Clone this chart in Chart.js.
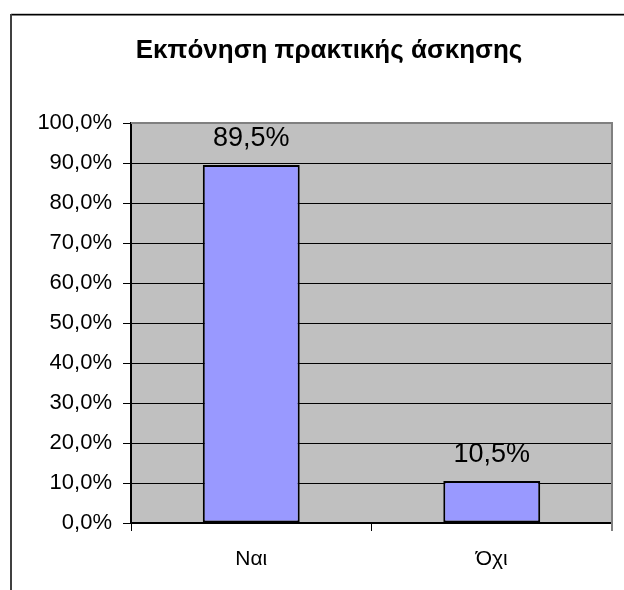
<!DOCTYPE html>
<html>
<head>
<meta charset="utf-8">
<script src="https://cdn.jsdelivr.net/npm/chart.js@4/dist/chart.umd.min.js"></script>
<style>
html,body{margin:0;padding:0;background:#fff;}
#wrap{position:relative;width:624px;height:590px;}
</style>
</head>
<body>
<div id="wrap"><canvas id="c" width="624" height="590"></canvas></div>
<script>
const chartTitle = 'Εκπόνηση πρακτικής άσκησης';
const categories = ['Ναι', 'Όχι'];
const values = [89.5, 10.5];
const yTicks = [0, 10, 20, 30, 40, 50, 60, 70, 80, 90, 100];

const FONT = "'Liberation Sans', Arial, sans-serif";
const fmt = v => v.toFixed(1).replace('.', ',') + '%';

const decor = {
  id: 'decor',
  beforeDraw(chart) {
    const ctx = chart.ctx, a = chart.chartArea;
    ctx.save();
    ctx.fillStyle = '#fff';
    ctx.fillRect(0, 0, chart.width, chart.height);
    ctx.fillStyle = '#C0C0C0';
    ctx.fillRect(a.left, a.top, a.right - a.left, a.bottom - a.top);
    // outer frame
    ctx.fillStyle = '#c8c8c8';
    ctx.fillRect(11, 13, chart.width - 11, 1);
    ctx.fillStyle = '#000';
    ctx.fillRect(11, 14, chart.width - 11, 1.5);
    ctx.fillStyle = '#404040';
    ctx.fillRect(10, 14, 2, chart.height - 14);
    // title
    ctx.fillStyle = '#000';
    ctx.font = 'bold 26px ' + FONT;
    ctx.textAlign = 'center';
    ctx.textBaseline = 'middle';
    ctx.fillText(chartTitle, 329, 51);
    ctx.restore();
  },
  afterDatasetsDraw(chart) {
    const ctx = chart.ctx, a = chart.chartArea;
    ctx.save();
    ctx.strokeStyle = '#808080';
    ctx.lineWidth = 2;
    ctx.beginPath();
    ctx.moveTo(a.left, a.top);
    ctx.lineTo(a.right, a.top);
    ctx.lineTo(a.right, a.bottom + 8);
    ctx.stroke();
    ctx.fillStyle = '#000';
    ctx.font = '27px ' + FONT;
    ctx.textAlign = 'center';
    ctx.textBaseline = 'alphabetic';
    const meta = chart.getDatasetMeta(0);
    meta.data.forEach((bar, i) => {
      ctx.fillText(fmt(values[i]), bar.x, bar.y - 19);
    });
    ctx.restore();
  }
};

new Chart(document.getElementById('c'), {
  type: 'bar',
  data: {
    labels: categories,
    datasets: [{
      data: values,
      backgroundColor: '#9999FF',
      borderColor: '#000',
      borderWidth: 2,
      borderSkipped: false,
      categoryPercentage: 1,
      barPercentage: 0.403
    }]
  },
  options: {
    responsive: false,
    animation: false,
    devicePixelRatio: 1,
    layout: { padding: { left: 0, right: 12, top: 123, bottom: 0 } },
    plugins: {
      legend: { display: false },
      tooltip: { enabled: false },
      title: { display: false }
    },
    scales: {
      x: {
        afterFit(s) { s.height = 67; },
        grid: { drawOnChartArea: false, color: '#000', tickLength: 8, offset: true, lineWidth: 1 },
        border: { color: '#000', width: 1.5 },
        ticks: { color: '#000', font: { family: FONT, size: 21 }, padding: 16 }
      },
      y: {
        min: 0, max: 100,
        afterFit(s) { s.width = 131; },
        afterBuildTicks(s) { s.ticks = yTicks.map(v => ({ value: v })); },
        grid: {
          color: ctx => (ctx.tick && ctx.tick.value === 100) ? '#808080' : '#000',
          tickColor: '#000',
          tickLength: 8,
          lineWidth: 1
        },
        border: { color: '#000', width: 2 },
        ticks: {
          color: '#000',
          font: { family: FONT, size: 22 },
          padding: 11,
          callback: v => fmt(v)
        }
      }
    }
  },
  plugins: [decor]
});
</script>
</body>
</html>
